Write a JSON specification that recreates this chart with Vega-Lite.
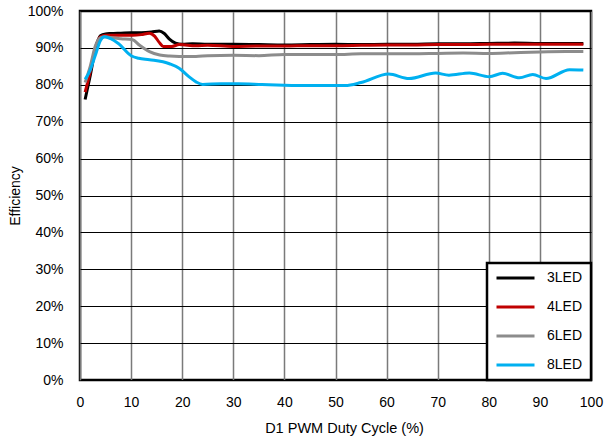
{
  "$schema": "https://vega.github.io/schema/vega-lite/v6.json",
  "width": 511,
  "height": 369,
  "autosize": {"type": "none"},
  "padding": {"left": 80, "top": 11, "right": 15, "bottom": 61},
  "background": "white",
  "config": {
    "font": "Liberation Sans",
    "view": {"stroke": "black", "strokeWidth": 2.5},
    "axis": {
      "domain": false,
      "ticks": false,
      "labelFlush": false,
      "labelFont": "Liberation Sans",
      "labelFontSize": 14,
      "labelColor": "black",
      "titleFont": "Liberation Sans",
      "titleFontSize": 14,
      "titleFontWeight": "normal",
      "titleColor": "black"
    }
  },
  "data": {
    "values": [
      {"x": 1, "y": 76, "s": "3LED"}, {"x": 2, "y": 82.5, "s": "3LED"}, {"x": 3, "y": 89.5, "s": "3LED"}, {"x": 4, "y": 93.3, "s": "3LED"}, {"x": 5, "y": 93.8, "s": "3LED"}, {"x": 6, "y": 93.9, "s": "3LED"}, {"x": 8, "y": 94, "s": "3LED"}, {"x": 10, "y": 94.1, "s": "3LED"}, {"x": 12, "y": 94.1, "s": "3LED"}, {"x": 14, "y": 94.3, "s": "3LED"}, {"x": 15.5, "y": 94.6, "s": "3LED"}, {"x": 16.5, "y": 93.9, "s": "3LED"}, {"x": 17.5, "y": 92.4, "s": "3LED"}, {"x": 18.7, "y": 91.3, "s": "3LED"}, {"x": 20, "y": 91, "s": "3LED"}, {"x": 22, "y": 91.1, "s": "3LED"}, {"x": 25, "y": 91, "s": "3LED"}, {"x": 30, "y": 91, "s": "3LED"}, {"x": 35, "y": 90.9, "s": "3LED"}, {"x": 40, "y": 90.8, "s": "3LED"}, {"x": 45, "y": 90.9, "s": "3LED"}, {"x": 50, "y": 91, "s": "3LED"}, {"x": 55, "y": 90.9, "s": "3LED"}, {"x": 60, "y": 91, "s": "3LED"}, {"x": 65, "y": 91, "s": "3LED"}, {"x": 70, "y": 91.1, "s": "3LED"}, {"x": 75, "y": 91.1, "s": "3LED"}, {"x": 80, "y": 91.2, "s": "3LED"}, {"x": 85, "y": 91.3, "s": "3LED"}, {"x": 90, "y": 91.2, "s": "3LED"}, {"x": 95, "y": 91.2, "s": "3LED"}, {"x": 98.5, "y": 91.2, "s": "3LED"},

      {"x": 1, "y": 78, "s": "4LED"}, {"x": 2, "y": 83.5, "s": "4LED"}, {"x": 3, "y": 90, "s": "4LED"}, {"x": 4, "y": 93, "s": "4LED"}, {"x": 5, "y": 93.4, "s": "4LED"}, {"x": 6, "y": 93.4, "s": "4LED"}, {"x": 8, "y": 93.4, "s": "4LED"}, {"x": 10.3, "y": 93.4, "s": "4LED"}, {"x": 12, "y": 93.6, "s": "4LED"}, {"x": 13.6, "y": 94, "s": "4LED"}, {"x": 14.6, "y": 93.2, "s": "4LED"}, {"x": 15.5, "y": 91.5, "s": "4LED"}, {"x": 16.3, "y": 90.4, "s": "4LED"}, {"x": 18, "y": 90.4, "s": "4LED"}, {"x": 19.4, "y": 90.9, "s": "4LED"}, {"x": 22.7, "y": 90.6, "s": "4LED"}, {"x": 25, "y": 90.7, "s": "4LED"}, {"x": 30, "y": 90.4, "s": "4LED"}, {"x": 35, "y": 90.5, "s": "4LED"}, {"x": 40, "y": 90.5, "s": "4LED"}, {"x": 45, "y": 90.6, "s": "4LED"}, {"x": 50, "y": 90.6, "s": "4LED"}, {"x": 55, "y": 90.7, "s": "4LED"}, {"x": 60, "y": 90.8, "s": "4LED"}, {"x": 65, "y": 90.8, "s": "4LED"}, {"x": 70, "y": 90.9, "s": "4LED"}, {"x": 75, "y": 90.9, "s": "4LED"}, {"x": 80, "y": 91, "s": "4LED"}, {"x": 85, "y": 91, "s": "4LED"}, {"x": 90, "y": 91, "s": "4LED"}, {"x": 95, "y": 91, "s": "4LED"}, {"x": 98.5, "y": 91, "s": "4LED"},

      {"x": 1, "y": 80.6, "s": "6LED"}, {"x": 2, "y": 85, "s": "6LED"}, {"x": 3, "y": 90.5, "s": "6LED"}, {"x": 4, "y": 92.8, "s": "6LED"}, {"x": 5, "y": 93, "s": "6LED"}, {"x": 6, "y": 92.8, "s": "6LED"}, {"x": 8, "y": 92.5, "s": "6LED"}, {"x": 10.3, "y": 92.2, "s": "6LED"}, {"x": 11.6, "y": 90.8, "s": "6LED"}, {"x": 13.6, "y": 89, "s": "6LED"}, {"x": 15.6, "y": 88.1, "s": "6LED"}, {"x": 17.5, "y": 87.8, "s": "6LED"}, {"x": 19.4, "y": 87.7, "s": "6LED"}, {"x": 22.7, "y": 87.7, "s": "6LED"}, {"x": 25, "y": 87.9, "s": "6LED"}, {"x": 30, "y": 88, "s": "6LED"}, {"x": 35, "y": 87.9, "s": "6LED"}, {"x": 40, "y": 88.2, "s": "6LED"}, {"x": 45, "y": 88.2, "s": "6LED"}, {"x": 50, "y": 88.2, "s": "6LED"}, {"x": 55, "y": 88.4, "s": "6LED"}, {"x": 60, "y": 88.4, "s": "6LED"}, {"x": 65, "y": 88.4, "s": "6LED"}, {"x": 70, "y": 88.5, "s": "6LED"}, {"x": 75, "y": 88.6, "s": "6LED"}, {"x": 80, "y": 88.5, "s": "6LED"}, {"x": 85, "y": 88.7, "s": "6LED"}, {"x": 90, "y": 88.9, "s": "6LED"}, {"x": 95, "y": 89, "s": "6LED"}, {"x": 98.5, "y": 89, "s": "6LED"},

      {"x": 1, "y": 81.5, "s": "8LED"}, {"x": 2, "y": 84, "s": "8LED"}, {"x": 3, "y": 88, "s": "8LED"}, {"x": 4, "y": 92, "s": "8LED"}, {"x": 4.8, "y": 93, "s": "8LED"}, {"x": 6, "y": 92.5, "s": "8LED"}, {"x": 7.5, "y": 91.2, "s": "8LED"}, {"x": 10.1, "y": 87.8, "s": "8LED"}, {"x": 11.5, "y": 87.2, "s": "8LED"}, {"x": 13.6, "y": 86.8, "s": "8LED"}, {"x": 17.5, "y": 85.7, "s": "8LED"}, {"x": 19.4, "y": 84.5, "s": "8LED"}, {"x": 21.3, "y": 82.2, "s": "8LED"}, {"x": 22.7, "y": 80.8, "s": "8LED"}, {"x": 24, "y": 80.1, "s": "8LED"}, {"x": 27.6, "y": 80.3, "s": "8LED"}, {"x": 31, "y": 80.3, "s": "8LED"}, {"x": 35.6, "y": 80.1, "s": "8LED"}, {"x": 40, "y": 79.9, "s": "8LED"}, {"x": 45, "y": 79.8, "s": "8LED"}, {"x": 51.9, "y": 79.8, "s": "8LED"}, {"x": 55, "y": 80.6, "s": "8LED"}, {"x": 60.4, "y": 82.9, "s": "8LED"}, {"x": 64.4, "y": 81.7, "s": "8LED"}, {"x": 69.6, "y": 83.2, "s": "8LED"}, {"x": 72.2, "y": 82.6, "s": "8LED"}, {"x": 76.2, "y": 83.2, "s": "8LED"}, {"x": 80.1, "y": 82.2, "s": "8LED"}, {"x": 82.7, "y": 83.1, "s": "8LED"}, {"x": 86, "y": 81.9, "s": "8LED"}, {"x": 88.6, "y": 82.8, "s": "8LED"}, {"x": 91.2, "y": 81.7, "s": "8LED"}, {"x": 95.8, "y": 84.1, "s": "8LED"}, {"x": 98.5, "y": 84, "s": "8LED"}
    ]
  },
  "mark": {"type": "line", "interpolate": "monotone", "strokeWidth": 3},
  "encoding": {
    "x": {
      "field": "x", "type": "quantitative",
      "scale": {"domain": [0, 100], "nice": false},
      "axis": {"values": [0, 10, 20, 30, 40, 50, 60, 70, 80, 90, 100], "title": "D1 PWM Duty Cycle (%)", "titleFontSize": 14.5, "titleX": 264, "labelPadding": 15, "titlePadding": 12, "gridColor": "#7a7a7a", "gridWidth": 1.5}
    },
    "y": {
      "field": "y", "type": "quantitative",
      "scale": {"domain": [0, 100], "nice": false},
      "axis": {"values": [0, 10, 20, 30, 40, 50, 60, 70, 80, 90, 100], "labelExpr": "datum.value + '%'", "title": "Efficiency", "labelPadding": 17, "titlePadding": 5, "gridColor": "#000000", "gridWidth": 1}
    },
    "color": {
      "field": "s", "type": "nominal",
      "scale": {"domain": ["3LED", "4LED", "6LED", "8LED"], "range": ["#000000", "#C00000", "#8C8C8C", "#00B0F0"]},
      "legend": {
        "title": null,
        "orient": "bottom-right",
        "offset": 0,
        "fillColor": "white",
        "strokeColor": "black",
        "padding": 8,
        "symbolType": "stroke",
        "symbolSize": 1444,
        "symbolStrokeWidth": 3,
        "clipHeight": 14,
        "rowPadding": 15,
        "labelOffset": 11,
        "labelFontSize": 14,
        "labelFont": "Liberation Sans",
        "labelColor": "black",
        "encode": {"legend": {"update": {"strokeWidth": {"value": 2.5}}}}
      }
    }
  }
}
